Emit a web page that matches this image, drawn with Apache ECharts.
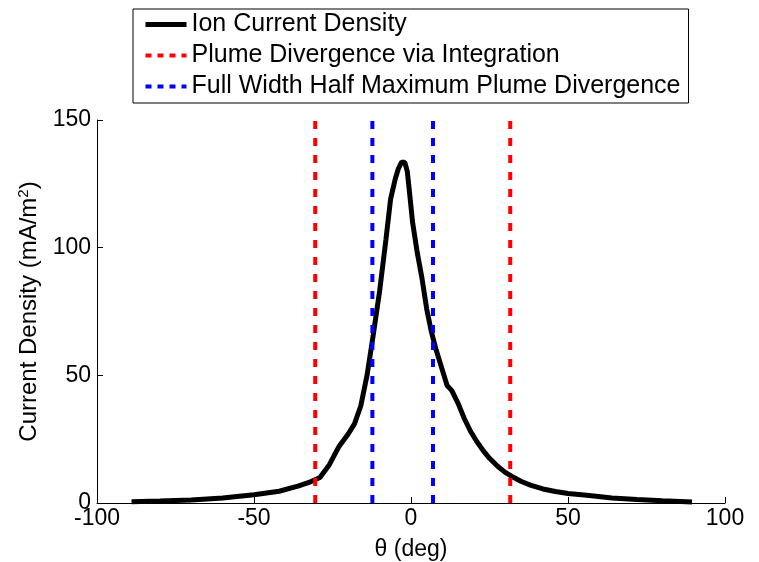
<!DOCTYPE html>
<html>
<head>
<meta charset="utf-8">
<script src="https://cdn.jsdelivr.net/npm/echarts@6/dist/echarts.min.js"></script>
<style>
  html, body { margin: 0; padding: 0; background: #fff; }
  #chart { width: 759px; height: 562px; }
</style>
</head>
<body>
<div id="chart"></div>
<script>
// angle (deg) and ion current density (mA/m^2)
const theta = [-89, -80, -70, -60, -50, -42, -36, -32, -29, -26, -23, -20, -18, -16, -14, -12, -10, -8, -6.5, -5, -4, -3, -2.5, -2, -1.2, -0.5, 0.5, 2, 3.5, 5, 6.5, 8, 10, 11.5, 13, 15, 17, 19, 21, 23, 25, 27.5, 30, 32, 35, 38, 42, 46, 50, 56, 64, 72, 80, 89.5]
const density = [0.5, 0.8, 1.2, 2.0, 3.2, 4.6, 6.6, 8.3, 10, 15, 22, 27, 31, 38, 50, 66, 83, 103, 119, 127, 131, 133.5, 134, 133.5, 130, 122, 110, 98, 88, 76, 67, 60, 52, 46, 44, 39, 33, 28, 24, 20.5, 17.5, 14.5, 12, 10.5, 8.5, 7, 5.5, 4.5, 3.7, 3, 2, 1.4, 0.9, 0.4]

// divergence angles (deg)
const integrationAngles = [-30.5, 31.6]
const fwhmAngles = [-12.3, 7.0]

const xTicks = [-100, 100, 50]   // min, max, interval
const yTicks = [0, 150, 50]

const seriesNames = ['Ion Current Density', 'Plume Divergence via Integration', 'Full Width Half Maximum Plume Divergence']

const font = 'Liberation Sans, Arial, sans-serif'

// a vertical line spanning the y range, broken by a null point
const pairLines = function (arr) {
    let out = []
    arr.forEach(function (x) {
        out.push([x, yTicks[0]], [x, yTicks[1]], [null, null])
    })
    return out
}

const option = {
    animation: false,
    backgroundColor: '#fff',
    legend: {
        orient: 'vertical',
        left: 133,
        top: 9,
        itemWidth: 41,
        itemHeight: 10,
        itemGap: 6,
        padding: [3, 8, 4, 10],
        borderColor: '#000',
        borderWidth: 1,
        itemStyle: { opacity: 0 },
        textStyle: { fontFamily: font, fontSize: 25, color: '#000', padding: [0, 0, 0, 0] },
        data: [
            { name: seriesNames[0], lineStyle: { width: 5 } },
            { name: seriesNames[1], lineStyle: { width: 4, type: [6, 6] } },
            { name: seriesNames[2], lineStyle: { width: 4, type: [6, 6] } }
        ]
    },
    grid: { left: 97, right: 34, top: 120, bottom: 59, outerBoundsMode: 'none', containLabel: false },
    xAxis: {
        type: 'value',
        min: xTicks[0], max: xTicks[1], interval: xTicks[2],
        name: 'θ (deg)',
        nameLocation: 'middle',
        nameGap: 35,
        nameTextStyle: { fontFamily: font, fontSize: 23, color: '#000' },
        axisLine: { onZero: false, lineStyle: { color: '#000', width: 1 } },
        axisTick: { inside: true, length: 6, lineStyle: { color: '#000' } },
        axisLabel: { fontFamily: font, fontSize: 23, color: '#000', margin: 4 },
        splitLine: { show: false }
    },
    yAxis: {
        type: 'value',
        min: yTicks[0], max: yTicks[1], interval: yTicks[2],
        name: 'Current Density (mA/m{sup|2})',
        nameLocation: 'middle',
        nameGap: 48,
        nameTextStyle: {
            fontFamily: font, fontSize: 24, color: '#000',
            rich: { sup: { fontFamily: font, fontSize: 15, color: '#000', verticalAlign: 'top', padding: [0, 0, 12, 0] } }
        },
        axisLine: { show: true, onZero: false, lineStyle: { color: '#000', width: 1 } },
        axisTick: { show: true, inside: true, length: 6, lineStyle: { color: '#000' } },
        axisLabel: { fontFamily: font, fontSize: 23, color: '#000', margin: 6 },
        splitLine: { show: false }
    },
    series: [
        {
            name: seriesNames[0],
            type: 'line',
            symbol: 'none',
            z: 3,
            lineStyle: { color: '#000', width: 5 },
            itemStyle: { color: '#000' },
            data: theta.map(function (t, i) { return [t, density[i]] })
        },
        {
            name: seriesNames[1],
            type: 'line',
            symbol: 'none',
            connectNulls: false,
            lineStyle: { color: '#ff0000', width: 4, type: [8, 9] },
            itemStyle: { color: '#ff0000' },
            data: pairLines(integrationAngles)
        },
        {
            name: seriesNames[2],
            type: 'line',
            symbol: 'none',
            connectNulls: false,
            lineStyle: { color: '#0000ff', width: 4, type: [8, 9] },
            itemStyle: { color: '#0000ff' },
            data: pairLines(fwhmAngles)
        }
    ]
}

const chart = echarts.init(document.getElementById('chart'), null, { renderer: 'canvas' })
chart.setOption(option)
</script>
</body>
</html>
